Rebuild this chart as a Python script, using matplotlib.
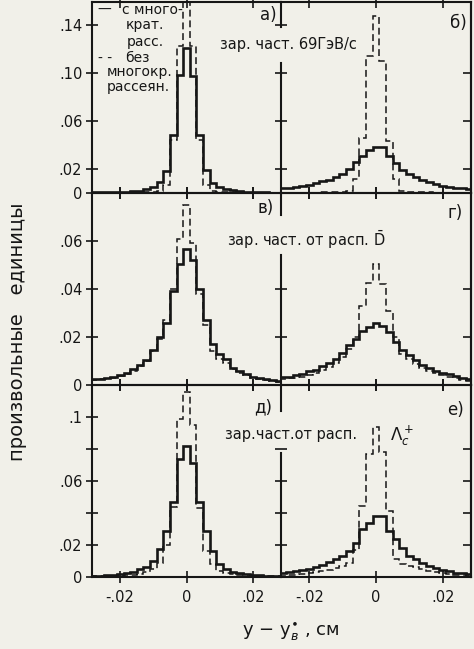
import numpy as np
import matplotlib
matplotlib.use("Agg")
import matplotlib.pyplot as plt

# ---------------- data (arbitrary units, bins of 0.002 cm) ----------------
bin_width = 0.002
bin_index = np.arange(-14, 15)          # bin centres = index * bin_width
bin_edges = np.append((bin_index - 0.5) * bin_width, (bin_index[-1] + 0.5) * bin_width)

# а) charged particles 69 GeV/c, left
a_multi = [0.0005, 0.0005, 0.0006, 0.0007, 0.0008, 0.0010, 0.0014, 0.0020, 0.0030, 0.0053,
           0.0094, 0.0186, 0.0480, 0.0980, 0.1206, 0.0970, 0.0480, 0.0190, 0.0086, 0.0050,
           0.0030, 0.0022, 0.0017, 0.0011, 0.0008, 0.0006, 0.0005, 0.0004, 0.0004]
a_single = [0.0003, 0.0003, 0.0003, 0.0003, 0.0004, 0.0004, 0.0005, 0.0006, 0.0008, 0.0010,
            0.0020, 0.0070, 0.0440, 0.1220, 0.2100, 0.1220, 0.0440, 0.0070, 0.0020, 0.0010,
            0.0008, 0.0006, 0.0005, 0.0004, 0.0004, 0.0003, 0.0003, 0.0003, 0.0003]
# б)
b_multi = [0.0040, 0.0045, 0.0050, 0.0057, 0.0070, 0.0085, 0.0097, 0.0110, 0.0130, 0.0160,
           0.0200, 0.0260, 0.0310, 0.0360, 0.0380, 0.0380, 0.0310, 0.0250, 0.0190, 0.0160,
           0.0130, 0.0110, 0.0090, 0.0075, 0.0060, 0.0050, 0.0045, 0.0040, 0.0035]
b_single = [0.0003, 0.0003, 0.0003, 0.0003, 0.0004, 0.0004, 0.0005, 0.0005, 0.0006, 0.0010,
            0.0020, 0.0120, 0.0460, 0.1140, 0.1470, 0.1100, 0.0430, 0.0120, 0.0020, 0.0010,
            0.0006, 0.0005, 0.0005, 0.0004, 0.0004, 0.0003, 0.0003, 0.0003, 0.0003]
# в) particles from D-bar decay
v_multi = [0.0024, 0.0027, 0.0030, 0.0035, 0.0040, 0.0050, 0.0065, 0.0085, 0.0106, 0.0146,
           0.0200, 0.0260, 0.0390, 0.0506, 0.0567, 0.0520, 0.0400, 0.0270, 0.0170, 0.0130,
           0.0110, 0.0072, 0.0058, 0.0045, 0.0035, 0.0030, 0.0025, 0.0020, 0.0015]
v_single = [0.0020, 0.0023, 0.0026, 0.0030, 0.0036, 0.0046, 0.0060, 0.0080, 0.0100, 0.0140,
            0.0190, 0.0270, 0.0400, 0.0610, 0.0750, 0.0590, 0.0380, 0.0250, 0.0140, 0.0110,
            0.0090, 0.0065, 0.0050, 0.0040, 0.0030, 0.0025, 0.0020, 0.0016, 0.0012]
# г)
g_multi = [0.0033, 0.0033, 0.0040, 0.0044, 0.0057, 0.0064, 0.0078, 0.0090, 0.0110, 0.0132,
           0.0166, 0.0193, 0.0227, 0.0240, 0.0257, 0.0245, 0.0220, 0.0180, 0.0146, 0.0125,
           0.0105, 0.0085, 0.0070, 0.0060, 0.0050, 0.0044, 0.0037, 0.0030, 0.0023]
g_single = [0.0026, 0.0028, 0.0030, 0.0035, 0.0042, 0.0050, 0.0062, 0.0075, 0.0090, 0.0115,
            0.0150, 0.0200, 0.0330, 0.0424, 0.0506, 0.0420, 0.0310, 0.0200, 0.0130, 0.0110,
            0.0088, 0.0072, 0.0060, 0.0048, 0.0040, 0.0033, 0.0028, 0.0022, 0.0018]
# д) particles from Lambda_c decay
d_multi = [0.0008, 0.0009, 0.0010, 0.0013, 0.0018, 0.0024, 0.0032, 0.0047, 0.0062, 0.0100,
           0.0173, 0.0288, 0.0466, 0.0738, 0.0816, 0.0710, 0.0466, 0.0288, 0.0162, 0.0079,
           0.0047, 0.0032, 0.0024, 0.0018, 0.0014, 0.0011, 0.0009, 0.0008, 0.0007]
d_single = [0.0004, 0.0004, 0.0005, 0.0006, 0.0008, 0.0010, 0.0013, 0.0018, 0.0030, 0.0050,
            0.0090, 0.0200, 0.0440, 0.0990, 0.1157, 0.0950, 0.0430, 0.0160, 0.0080, 0.0040,
            0.0025, 0.0018, 0.0013, 0.0010, 0.0008, 0.0006, 0.0005, 0.0004, 0.0004]
# е)
e_multi = [0.0025, 0.0030, 0.0036, 0.0044, 0.0052, 0.0063, 0.0075, 0.0092, 0.0110, 0.0130,
           0.0160, 0.0210, 0.0300, 0.0340, 0.0380, 0.0380, 0.0290, 0.0237, 0.0180, 0.0130,
           0.0110, 0.0090, 0.0069, 0.0055, 0.0045, 0.0035, 0.0028, 0.0022, 0.0018]
e_single = [0.0008, 0.0010, 0.0015, 0.0020, 0.0025, 0.0030, 0.0035, 0.0045, 0.0055, 0.0070,
            0.0090, 0.0170, 0.0446, 0.0770, 0.0940, 0.0780, 0.0415, 0.0110, 0.0080, 0.0070,
            0.0060, 0.0050, 0.0040, 0.0030, 0.0022, 0.0016, 0.0012, 0.0010, 0.0008]

x_ticks = [-0.02, 0.0, 0.02]
x_ticklabels = ["-.02", "0", ".02"]
row_ylim = [0.159, 0.080, 0.120]
left_yticks = [[0, 0.02, 0.06, 0.10, 0.14], [0, 0.02, 0.04, 0.06], [0, 0.02, 0.04, 0.06, 0.08, 0.10]]
left_yticklabels = [["0", ".02", ".06", ".10", ".14"], ["0", ".02", ".04", ".06"],
                    ["0", ".02", "", ".06", "", ".1"]]
right_yticks = [[0.02, 0.06, 0.10, 0.14], [0.02, 0.04], [0.02, 0.04, 0.06, 0.08]]
edge_yticks = [[0.02, 0.06, 0.10], [0.02, 0.04], [0.02, 0.04, 0.06, 0.08]]
right_gap = [(0.108, 0.138), (0.054, 0.071), (0.0775, 0.104)]   # hidden part of separator
panel_labels = [("а)", "б)"), ("в)", "г)"), ("д)", "е)")]
series = [((a_multi, a_single), (b_multi, b_single)),
          ((v_multi, v_single), (g_multi, g_single)),
          ((d_multi, d_single), (e_multi, e_single))]

# ---------------- figure ----------------
W, H = 474, 649
BG = "#f1f0e9"
INK = "#161616"
plt.rcParams["font.family"] = ["DejaVu Sans"]
fig = plt.figure(figsize=(W / 100, H / 100), dpi=100, facecolor=BG)

def px_axes(x0, y0, x1, y1):
    return fig.add_axes([x0 / W, 1 - y1 / H, (x1 - x0) / W, (y1 - y0) / H])

def ftext(x, y, s, **kw):
    kw.setdefault("color", INK)
    kw.setdefault("va", "center")
    fig.text(x / W, 1 - y / H, s, **kw)

cols = [(92, 281), (281, 471)]
rows = [(2, 193), (193, 385), (385, 577)]
XL = (-0.0285, 0.0285)
SPW = 1.5

for r, (y0, y1) in enumerate(rows):
    for c, (x0, x1) in enumerate(cols):
        ax = px_axes(x0, y0, x1, y1)
        ax.set_facecolor("none")
        multi, single = series[r][c]
        ax.stairs(multi, bin_edges, baseline=None, color=INK, lw=1.9)
        ax.stairs(single, bin_edges, baseline=None, color=INK, lw=1.1,
                  linestyle=(0, (4.5, 2.5)))
        ax.set_xlim(*XL)
        ax.set_ylim(0, row_ylim[r])
        ax.set_xticks(x_ticks)
        if r == 2:
            ax.set_xticklabels(x_ticklabels, fontsize=10.5)
        else:
            ax.set_xticklabels([])
        ax.tick_params(axis="x", direction="inout", length=8, width=1.2,
                       top=True, bottom=True, pad=5, colors=INK)
        for s in ax.spines.values():
            s.set_linewidth(SPW)
            s.set_color(INK)
        if c == 0:
            ax.spines["right"].set_visible(False)
            ax.set_yticks(left_yticks[r])
            ax.set_yticklabels(left_yticklabels[r], fontsize=10.5)
            ax.tick_params(axis="y", direction="inout", length=8, width=1.2,
                           left=True, right=False, pad=3, colors=INK)
        else:
            lo, hi = right_gap[r]
            ax.spines["left"].set_bounds(0, lo)
            ax.axvline(XL[0], ymin=hi / row_ylim[r], ymax=1, color=INK, lw=SPW,
                       clip_on=False)
            ax.set_yticks(right_yticks[r])
            ax.set_yticklabels([])
            ax.tick_params(axis="y", direction="inout", length=8, width=1.2,
                           left=True, right=False, colors=INK)
            sec = ax.secondary_yaxis("right")
            sec.set_yticks(edge_yticks[r])
            sec.set_yticklabels([])
            sec.spines["right"].set_linewidth(SPW)
            sec.spines["right"].set_color(INK)
            sec.tick_params(axis="y", direction="in", length=6, width=1.2, colors=INK)

# panel labels
ftext(268, 15, panel_labels[0][0], fontsize=12, ha="center")
ftext(458, 23, panel_labels[0][1], fontsize=12, ha="center")
ftext(266, 208, panel_labels[1][0], fontsize=12, ha="center")
ftext(455, 213, panel_labels[1][1], fontsize=12, ha="center")
ftext(263, 407, panel_labels[2][0], fontsize=12, ha="center")
ftext(455, 410, panel_labels[2][1], fontsize=12, ha="center")

# descriptive labels
ftext(220, 45, "зар. част. 69ГэВ/с", fontsize=10.5, ha="left")
ftext(227, 240, r"зар. част. от расп. $\bar{\mathrm{D}}$", fontsize=10.5, ha="left")
ftext(225, 435, "зар.част.от расп.", fontsize=10.5, ha="left")
ftext(390, 436, r"$\Lambda_c^+$", fontsize=12, ha="left")

# legend (panel а)
ftext(97, 10, "—", fontsize=10, ha="left")
ftext(122, 10, "с много-", fontsize=10, ha="left")
ftext(126, 25, "крат.", fontsize=10, ha="left")
ftext(127, 42, "расс.", fontsize=10, ha="left")
ftext(98, 58, "- -", fontsize=10, ha="left")
ftext(125, 58, "без", fontsize=10, ha="left")
ftext(107, 72, "многокр.", fontsize=10, ha="left")
ftext(107, 87, "рассеян.", fontsize=10, ha="left")

# axis titles
ftext(18, 332, "произвольные   единицы", fontsize=14, ha="center", rotation=90)
ftext(291, 632, r"y − y$^{\bullet}_{в}$ , см", fontsize=13, ha="center")

fig.savefig("out.png", dpi=100, facecolor=BG)
